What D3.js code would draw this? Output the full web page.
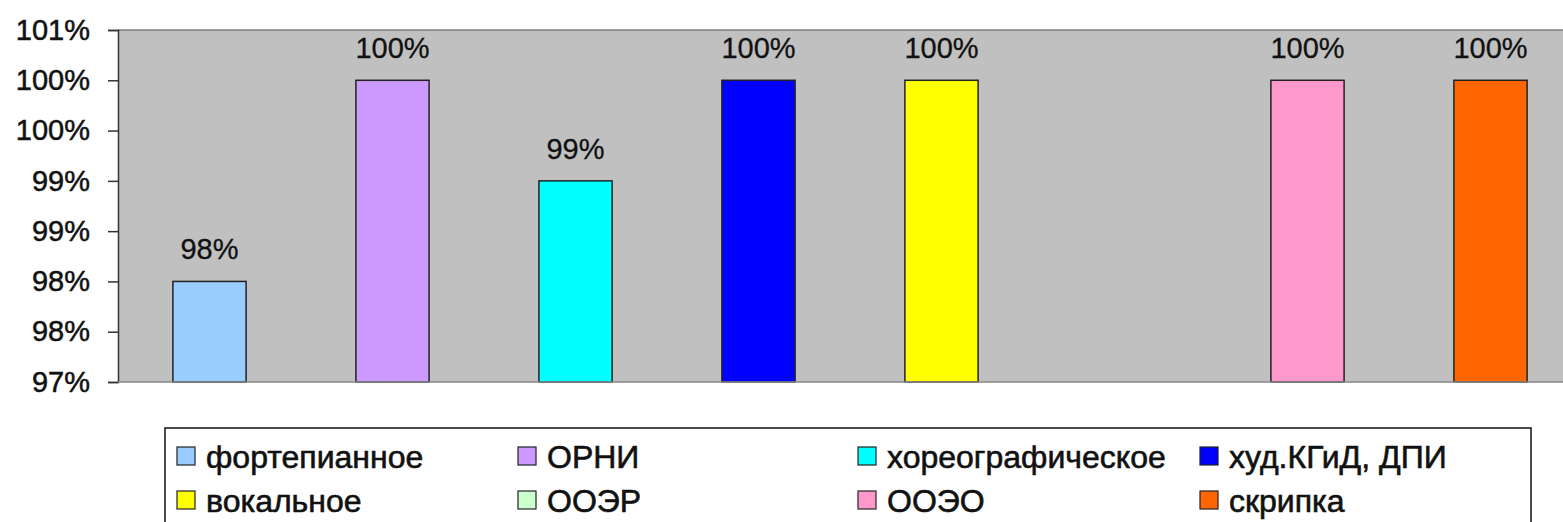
<!DOCTYPE html>
<html>
<head>
<meta charset="utf-8">
<script src="https://cdn.jsdelivr.net/npm/d3@7"></script>
<style>
  body { margin: 0; background: #fff; }
  text { font-family: "Liberation Sans", Arial, sans-serif; }
</style>
</head>
<body>
<script>
// categories and values (percent)
var categories = ["фортепианное", "ОРНИ", "хореографическое", "худ.КГиД, ДПИ", "вокальное", "ООЭР", "ООЭО", "скрипка"];
var values = [98, 100, 99, 100, 100, null, 100, 100];
var valueLabels = ["98%", "100%", "99%", "100%", "100%", "", "100%", "100%"];
var colors = ["#99ccff", "#cc99ff", "#00ffff", "#0000ff", "#ffff00", "#ccffcc", "#ff99cc", "#ff6600"];
var tickValues = [97, 97.5, 98, 98.5, 99, 99.5, 100, 100.5];
var tickLabels = ["97%", "98%", "98%", "99%", "99%", "100%", "100%", "101%"];

var width = 1563, height = 522;
var plot = { left: 118, top: 30, right: 1582, bottom: 382 };

var svg = d3.select("body").append("svg")
  .attr("width", width)
  .attr("height", height);

var x = d3.scaleBand()
  .domain(categories)
  .range([plot.left, plot.right])
  .paddingInner(0.6)
  .paddingOuter(0.3);

var y = d3.scaleLinear()
  .domain([97, 100.5])
  .range([plot.bottom, plot.top]);

// plot background
svg.append("rect")
  .attr("x", plot.left)
  .attr("y", plot.top)
  .attr("width", plot.right - plot.left)
  .attr("height", plot.bottom - plot.top)
  .attr("fill", "#c0c0c0");

svg.append("line")
  .attr("x1", plot.left).attr("x2", plot.right)
  .attr("y1", plot.top).attr("y2", plot.top)
  .attr("stroke", "#808080").attr("stroke-width", 1.5);

// bars
var data = categories.map(function(c, i) {
  return { cat: c, v: values[i], label: valueLabels[i], color: colors[i] };
}).filter(function(d) { return d.v != null; });

svg.selectAll("rect.bar")
  .data(data)
  .enter().append("rect")
  .attr("class", "bar")
  .attr("x", function(d) { return x(d.cat); })
  .attr("y", function(d) { return y(d.v); })
  .attr("width", x.bandwidth())
  .attr("height", function(d) { return plot.bottom - y(d.v); })
  .attr("fill", function(d) { return d.color; })
  .attr("stroke", "#222")
  .attr("stroke-width", 1.5);

svg.selectAll("text.val")
  .data(data)
  .enter().append("text")
  .attr("class", "val")
  .attr("x", function(d) { return x(d.cat) + x.bandwidth() / 2; })
  .attr("y", function(d) { return y(d.v) - 22; })
  .attr("text-anchor", "middle")
  .attr("font-size", 29)
  .attr("fill", "#111")
  .attr("stroke", "#111").attr("stroke-width", 0.3)
  .text(function(d) { return d.label; });

// axes
var yAxis = d3.axisLeft(y)
  .tickValues(tickValues)
  .tickSize(10)
  .tickFormat(function(d, i) { return tickLabels[i]; });

var gy = svg.append("g")
  .attr("transform", "translate(" + plot.left + ",0)")
  .call(yAxis);
gy.select(".domain").attr("stroke", "#333").attr("stroke-width", 1.5);
gy.selectAll(".tick line").attr("stroke", "#333").attr("stroke-width", 1.5);
gy.selectAll(".tick text")
  .attr("x", -28)
  .attr("font-size", 29)
  .attr("font-family", "Liberation Sans, Arial, sans-serif")
  .attr("fill", "#111")
  .attr("stroke", "#111").attr("stroke-width", 0.5);

svg.append("line")
  .attr("x1", plot.left).attr("x2", plot.right)
  .attr("y1", plot.bottom).attr("y2", plot.bottom)
  .attr("stroke", "#888").attr("stroke-width", 1.5);

// legend
var legend = svg.append("g");
legend.append("rect")
  .attr("x", 165).attr("y", 428)
  .attr("width", 1366).attr("height", 120)
  .attr("fill", "#fff")
  .attr("stroke", "#111").attr("stroke-width", 1.5);

var colX = [177, 518, 858, 1200];
var rowY = [456, 500];

var items = legend.selectAll("g.item")
  .data(categories)
  .enter().append("g")
  .attr("class", "item")
  .attr("transform", function(d, i) {
    return "translate(" + colX[i % 4] + "," + rowY[Math.floor(i / 4)] + ")";
  });

items.append("rect")
  .attr("x", 0).attr("y", -9)
  .attr("width", 18).attr("height", 18)
  .attr("fill", function(d, i) { return colors[i]; })
  .attr("stroke", "#222").attr("stroke-width", 1.2);

items.append("text")
  .attr("x", 29)
  .attr("dy", "0.36em")
  .attr("font-size", 32)
  .attr("fill", "#111")
  .attr("stroke", "#111").attr("stroke-width", 0.6)
  .text(function(d) { return d; });
</script>
</body>
</html>
